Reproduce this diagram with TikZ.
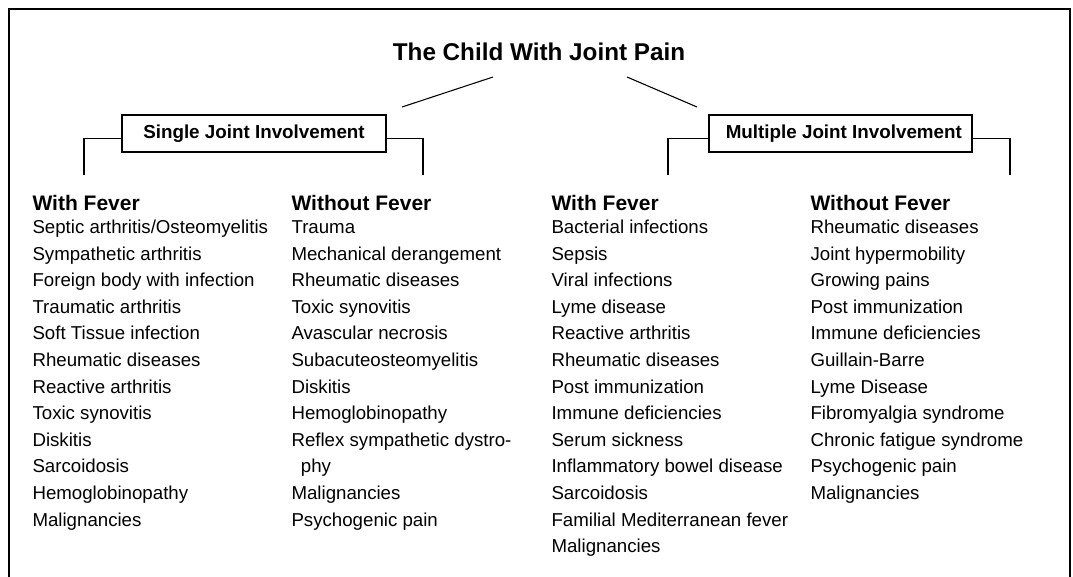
\documentclass[tikz,border=0pt]{standalone}
\usepackage{fontspec}
\setmainfont{Liberation Sans}
\tikzset{
  item/.style={anchor=base west, inner sep=0pt, font=\fontsize{14}{16}\selectfont},
  colhead/.style={anchor=base west, inner sep=0pt, font=\fontsize{15.75}{18}\selectfont\bfseries},
  jointbox/.style={draw, line width=0.8pt, minimum height=27.75pt, inner sep=0pt, font=\fontsize{14.1}{16}\selectfont\bfseries},
}
\begin{document}
\begin{tikzpicture}[x=0.75pt, y=-0.75pt, line width=0.8pt]
	\useasboundingbox (0,0) rectangle (1073,576);
	\draw[line width=1.5pt] (9,580) -- (9,9) -- (1070,9) -- (1070,580);
	% title and the two groups
	\node[anchor=base, inner sep=0pt, font=\fontsize{18.2}{20}\selectfont\bfseries] (title) at (539,60) {The Child With Joint Pain};
	\coordinate (tl) at (493,77);
	\coordinate (tr) at (627,77);
	\coordinate (sl) at (402,107);
	\coordinate (mr) at (697,107);
	\draw (tl) -- (sl);
	\draw (tr) -- (mr);
	\node[jointbox, minimum width=198pt] (single) at (254,133.5) {Single Joint Involvement};
	\node[jointbox, minimum width=197.25pt] (multiple) at (840.5,133.5) {\hspace{5pt}Multiple Joint Involvement};
	\coordinate (s1) at (84,175);
	\coordinate (s2) at (423,175);
	\coordinate (m1) at (668,175);
	\coordinate (m2) at (1010,175);
	\draw ([yshift=-3.4pt]single.west) -| (s1);
	\draw ([yshift=-3.4pt]single.east) -| (s2);
	\draw ([yshift=-3.4pt]multiple.west) -| (m1);
	\draw ([yshift=-3.4pt]multiple.east) -| (m2);
	% columns
	\node[colhead] (h1) at (32,210) {With Fever};
	\node[colhead] (h2) at (291,210) {Without Fever};
	\node[colhead] (h3) at (551,210) {With Fever};
	\node[colhead] (h4) at (810,210) {Without Fever};
	\foreach \t [count=\i] in {Septic arthritis/Osteomyelitis, Sympathetic arthritis, Foreign body with infection, Traumatic arthritis, Soft Tissue infection, Rheumatic diseases, Reactive arthritis, Toxic synovitis, Diskitis, Sarcoidosis, Hemoglobinopathy, Malignancies}
		\node[item] (a\i) at (32,{233.5+26.6*(\i-1)}) {\t};
	\foreach \t [count=\i] in {Trauma, Mechanical derangement, Rheumatic diseases, Toxic synovitis, Avascular necrosis, Subacuteosteomyelitis, Diskitis, Hemoglobinopathy, Reflex sympathetic dystro-, \hspace*{7pt}phy, Malignancies, Psychogenic pain}
		\node[item] (b\i) at (291,{233.5+26.6*(\i-1)}) {\t};
	\foreach \t [count=\i] in {Bacterial infections, Sepsis, Viral infections, Lyme disease, Reactive arthritis, Rheumatic diseases, Post immunization, Immune deficiencies, Serum sickness, Inflammatory bowel disease, Sarcoidosis, Familial Mediterranean fever, Malignancies}
		\node[item] (c\i) at (551,{233.5+26.6*(\i-1)}) {\t};
	\foreach \t [count=\i] in {Rheumatic diseases, Joint hypermobility, Growing pains, Post immunization, Immune deficiencies, Guillain-Barre, Lyme Disease, Fibromyalgia syndrome, Chronic fatigue syndrome, Psychogenic pain, Malignancies}
		\node[item] (d\i) at (810,{233.5+26.6*(\i-1)}) {\t};
\end{tikzpicture}
\end{document}
